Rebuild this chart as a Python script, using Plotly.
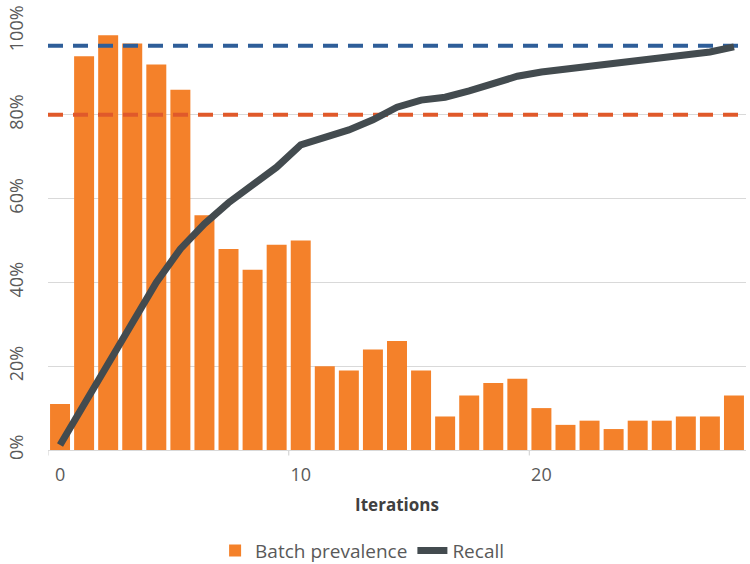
import plotly.graph_objects as go

iterations = list(range(29))
batch_prevalence = [11, 94, 99, 97, 92, 86, 56, 48, 43, 49, 50, 20, 19, 24, 26, 19, 8, 13, 16, 17, 10, 6, 7, 5, 7, 7, 8, 8, 13]
recall = [1.2, 11, 21, 31, 40, 48, 54, 59, 63, 67.5, 72.8, 74.6, 76.4, 78.8, 81.8, 83.5, 84.2, 85.7, 87.3, 89.2, 90.2, 90.9, 91.6, 92.1, 92.6, 93.4, 94.2, 95.0, 96.2]
target_high = 96.5
target_low = 80
x_extent = [-0.5, 28.5]
x_tick_vals = [0, 10, 20]
y_tick_vals = [0, 20, 40, 60, 80, 100]
y_tick_text = ["0%", "20%", "40%", "60%", "80%", "100%"]
x_tick_marks = [-0.5, 9.5, 19.5]

FONT = "Open Sans"
GRID = "#D9D9D9"

fig = go.Figure()
fig.add_trace(go.Bar(x=iterations, y=batch_prevalence, name="Batch prevalence",
                     marker=dict(color="#F4812A", line=dict(width=0))))
fig.add_trace(go.Scatter(x=x_extent, y=[target_low, target_low], mode="lines", showlegend=False,
                         hoverinfo="skip", line=dict(color="#E0592A", width=4, dash="15px,10px")))
fig.add_trace(go.Scatter(x=x_extent, y=[target_high, target_high], mode="lines", showlegend=False,
                         hoverinfo="skip", line=dict(color="#2E5E99", width=4, dash="15px,10px")))
fig.add_trace(go.Scatter(x=iterations, y=recall, name="Recall", mode="lines",
                         line=dict(color="#434B4F", width=7)))

for xv in x_tick_marks:
    fig.add_shape(type="line", xref="x", yref="paper", x0=xv, x1=xv, y0=0, y1=-0.013,
                  line=dict(color=GRID, width=1.3))

fig.update_layout(
    width=750, height=564,
    margin=dict(l=48, r=4, t=31, b=114, autoexpand=False),
    paper_bgcolor="white", plot_bgcolor="white",
    bargap=0.17,
    font=dict(family=FONT, color="#595959", size=18),
    showlegend=True,
    legend=dict(orientation="h", x=0.45, xanchor="center", y=-0.195, yanchor="top",
                font=dict(size=19, color="#595959"), traceorder="normal",
                itemwidth=30),
    xaxis=dict(range=x_extent, tickvals=x_tick_vals, ticks="", showgrid=False,
               showline=True, linecolor=GRID, linewidth=1.3, zeroline=False,
               ticklabelstandoff=8, automargin=False,
               tickfont=dict(size=18, color="#595959"),
               title=dict(text="<b>Iterations</b>", font=dict(size=17, color="#404040"), standoff=14)),
    yaxis=dict(range=[0, 100], tickvals=y_tick_vals, ticktext=y_tick_text, tickangle=-90,
               showgrid=True, gridcolor=GRID, gridwidth=1.3, zeroline=False, showline=False,
               ticklabelstandoff=20, automargin=False,
               tickfont=dict(size=18, color="#595959")),
)

fig.write_html("out.html")
